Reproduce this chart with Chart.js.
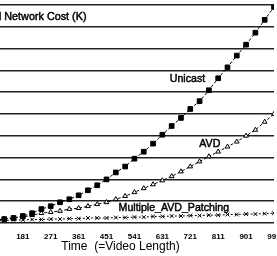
<!DOCTYPE html>
<html><head><meta charset="utf-8">
<script src="https://cdn.jsdelivr.net/npm/chart.js@4/dist/chart.umd.min.js"></script>
<style>
html,body{margin:0;padding:0;background:#fff;overflow:hidden;width:277px;height:256px;}
#wrap{position:absolute;left:-60px;top:0;width:360px;height:256px;}
</style></head><body>
<div id="wrap"><canvas id="c" width="360" height="256"></canvas></div>
<script>
// Time (= video length) of each sample
const times = [91,121,151,181,211,241,271,301,331,361,391,421,451,481,511,541,571,601,631,661,691,721,751,781,811,841,871,901,931,961,991];
// x-axis tick labels
const xTickValues = [1,91,181,271,361,451,541,631,721,811,901,991];
// Total network cost (K)
const unicast = [0.9,1.8,2.3,3.2,4.5,6.4,7.7,9.5,10.9,12.7,15.0,17.3,20.0,23.2,25.9,29.5,32.7,36.4,40.5,44.5,48.2,52.3,55.9,60.9,66.4,71.4,76.8,81.8,87.3,93.2,99.1];
const avd = [1.4,1.8,2.3,2.7,3.6,4.5,5.0,5.5,6.4,6.8,7.7,8.6,9.5,10.9,12.3,14.1,15.9,17.7,19.5,21.4,23.6,25.9,28.2,30.5,32.7,35.0,37.3,40.0,42.7,46.4,50.0];
const multipleAvdPatching = [1.0,1.1,1.4,1.4,1.6,1.6,1.8,1.8,2.0,2.0,2.3,2.3,2.3,2.5,2.5,2.7,2.7,3.0,3.0,3.2,3.2,3.4,3.4,3.6,3.6,3.9,3.9,4.1,4.1,4.3,4.5];
const seriesNames = ['Unicast','AVD','Multiple_AVD_Patching'];
const yTitle = 'Total Network Cost (K)';
const xTitle = 'Time  (=Video Length)';

const FONT = '"Liberation Sans", Arial, Helvetica, sans-serif';
const toPts = arr => times.map((t,i)=>({x:t,y:arr[i]}));

const labelPlugin = {
  id:'seriesLabels',
  afterDatasetsDraw(chart, args, opts){
    const {ctx, chartArea} = chart;
    const x = chart.scales.x, y = chart.scales.y;
    ctx.save();
    ctx.fillStyle = '#000';
    ctx.strokeStyle = '#000';
    ctx.lineWidth = 0.45;
    ctx.font = '10.6px ' + FONT;
    ctx.textBaseline = 'alphabetic';
    ctx.textAlign = 'center';
    opts.items.forEach(it=>{
      const px = x.getPixelForValue(it.t), py = y.getPixelForValue(it.v);
      ctx.fillText(it.text, px, py);
      ctx.strokeText(it.text, px, py);
    });
    ctx.textAlign = 'left';
    ctx.font = '10.8px ' + FONT;
    ctx.fillText(yTitle, chartArea.left + 11.5, chartArea.top + 15);
    ctx.strokeText(yTitle, chartArea.left + 11.5, chartArea.top + 15);
    ctx.restore();
  }
};

const common = {borderColor:'#000', backgroundColor:'#000', borderWidth:1, fill:false, tension:0, pointBorderWidth:1};

new Chart(document.getElementById('c'), {
  type:'line',
  data:{datasets:[
    Object.assign({label:seriesNames[0], data:toPts(unicast), pointStyle:'rect', pointRadius:3.3, borderDash:[3,2]}, common),
    Object.assign({label:seriesNames[1], data:toPts(avd), pointStyle:'triangle', pointRadius:2.7, borderDash:[3,2]}, common, {backgroundColor:'#fff', pointBackgroundColor:'#fff'}),
    Object.assign({label:seriesNames[2], data:toPts(multipleAvdPatching), pointStyle:'crossRot', pointRadius:2.7, borderDash:[2,2]}, common)
  ]},
  options:{
    responsive:false, animation:false, devicePixelRatio:1,
    layout:{padding:{left:27,right:26,top:3,bottom:3}},
    plugins:{
      legend:{display:false}, tooltip:{enabled:false},
      seriesLabels:{items:[
        {text:seriesNames[0], t:712, v:64.5},
        {text:seriesNames[1], t:784, v:35},
        {text:seriesNames[2], t:668, v:5.5}
      ]}
    },
    scales:{
      x:{type:'linear', min:1, max:991,
        afterBuildTicks: s => { s.ticks = xTickValues.map(v=>({value:v})); },
        grid:{display:false, drawTicks:false},
        border:{display:false},
        ticks:{padding:10, color:'#000', font:{family:FONT, size:8, weight:'bold', lineHeight:1}, maxRotation:0, autoSkip:false},
        title:{display:true, text:xTitle, color:'#000', padding:{top:-10,bottom:0}, font:{family:FONT, size:12, lineHeight:1}}
      },
      y:{min:0, max:100,
        ticks:{display:false, stepSize:10},
        grid:{color:'#222', lineWidth:1.5, drawTicks:false},
        border:{display:false}
      }
    }
  },
  plugins:[labelPlugin]
});
</script>
</body></html>
